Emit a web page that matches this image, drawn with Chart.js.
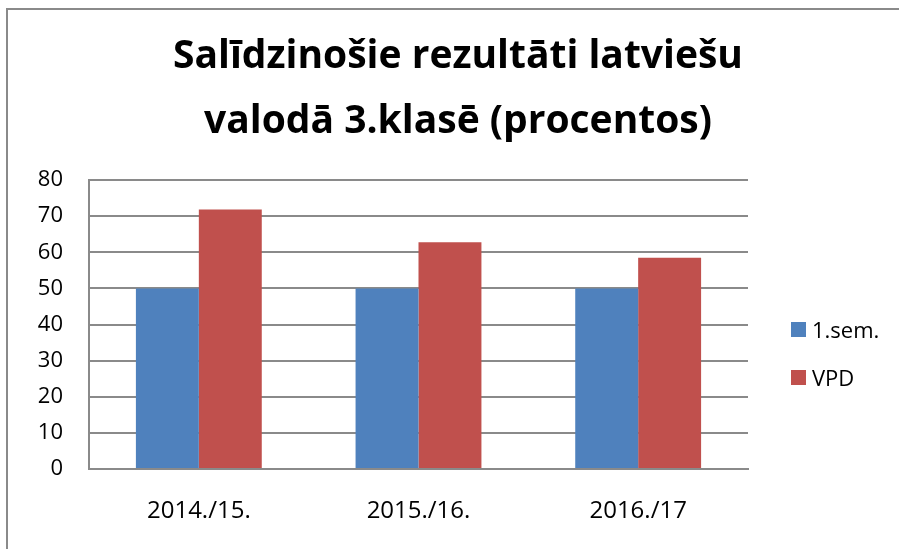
<!DOCTYPE html>
<html>
<head>
<meta charset="utf-8">
<script src="https://cdn.jsdelivr.net/npm/chart.js@4.4.0/dist/chart.umd.min.js"></script>
<style>
  html, body { margin: 0; padding: 0; background: #fff; }
  #wrap { position: relative; width: 899px; height: 549px; overflow: hidden; }
  #frame { position: absolute; left: 6px; top: 8px; width: 1000px; height: 1000px;
           border-left: 2px solid #8a8a8a; border-top: 2px solid #8a8a8a; box-sizing: border-box; }
  canvas { position: absolute; left: 0; top: 0; }
  #title { position: absolute; left: 0; top: 20px; width: 916px; text-align: center;
           font-family: "Open Sans", sans-serif; font-weight: bold; font-size: 39px; line-height: 65px; color: #000; }
  #legend { position: absolute; left: 791px; top: 317px; font-family: "Open Sans", sans-serif; font-size: 22px; color: #000; }
  .item { display: flex; align-items: center; height: 24px; line-height: 24px; margin-bottom: 24px; }
  .sw { width: 15px; height: 15px; margin-right: 6px; }
</style>
</head>
<body>
<div id="wrap">
  <div id="frame"></div>
  <canvas id="c" width="899" height="549"></canvas>
  <div id="title"></div>
  <div id="legend"></div>
</div>
<script>
const categories = ['2014./15.', '2015./16.', '2016./17'];
const seriesNames = ['1.sem.', 'VPD'];
const sem1 = [50, 50, 50];
const vpd = [71.8, 62.8, 58.5];
const yTicks = [0, 10, 20, 30, 40, 50, 60, 70, 80];
const titleLines = ['Salīdzinošie rezultāti latviešu', 'valodā 3.klasē (procentos)'];
const colors = ['#4f81bd', '#c0504d'];

const FONT = '"Open Sans", sans-serif';

document.getElementById('title').innerHTML = titleLines.join('<br>');

const chart = new Chart(document.getElementById('c'), {
  type: 'bar',
  data: {
    labels: categories,
    datasets: [
      { label: seriesNames[0], data: sem1, backgroundColor: colors[0], borderWidth: 0 },
      { label: seriesNames[1], data: vpd, backgroundColor: colors[1], borderWidth: 0 }
    ]
  },
  options: {
    responsive: false,
    animation: false,
    devicePixelRatio: 1,
    layout: { padding: { left: 0, right: 151, top: 180, bottom: 0 } },
    datasets: { bar: { barPercentage: 1.0, categoryPercentage: 0.573 } },
    plugins: {
      legend: { display: false },
      tooltip: { enabled: false },
      title: { display: false }
    },
    scales: {
      x: {
        grid: { display: false, drawTicks: false },
        border: { display: true, color: '#8a8a8a', width: 2 },
        ticks: { color: '#000', font: { family: FONT, size: 24 }, padding: 28 },
        afterFit: s => { s.height = 80; }
      },
      y: {
        min: 0, max: 80,
        afterBuildTicks: s => { s.ticks = yTicks.map(v => ({ value: v })); },
        grid: { color: '#8a8a8a', lineWidth: 2, drawTicks: false },
        border: { display: true, color: '#8a8a8a', width: 2 },
        ticks: { color: '#000', font: { family: FONT, size: 22 }, padding: 26 },
        afterFit: s => { s.width = 89; }
      }
    }
  }
});

const lg = document.getElementById('legend');
seriesNames.forEach((n, i) => {
  const d = document.createElement('div');
  d.className = 'item';
  const sw = document.createElement('div');
  sw.className = 'sw';
  sw.style.background = colors[i];
  const sp = document.createElement('span');
  sp.textContent = n;
  d.appendChild(sw);
  d.appendChild(sp);
  lg.appendChild(d);
});
</script>
</body>
</html>
